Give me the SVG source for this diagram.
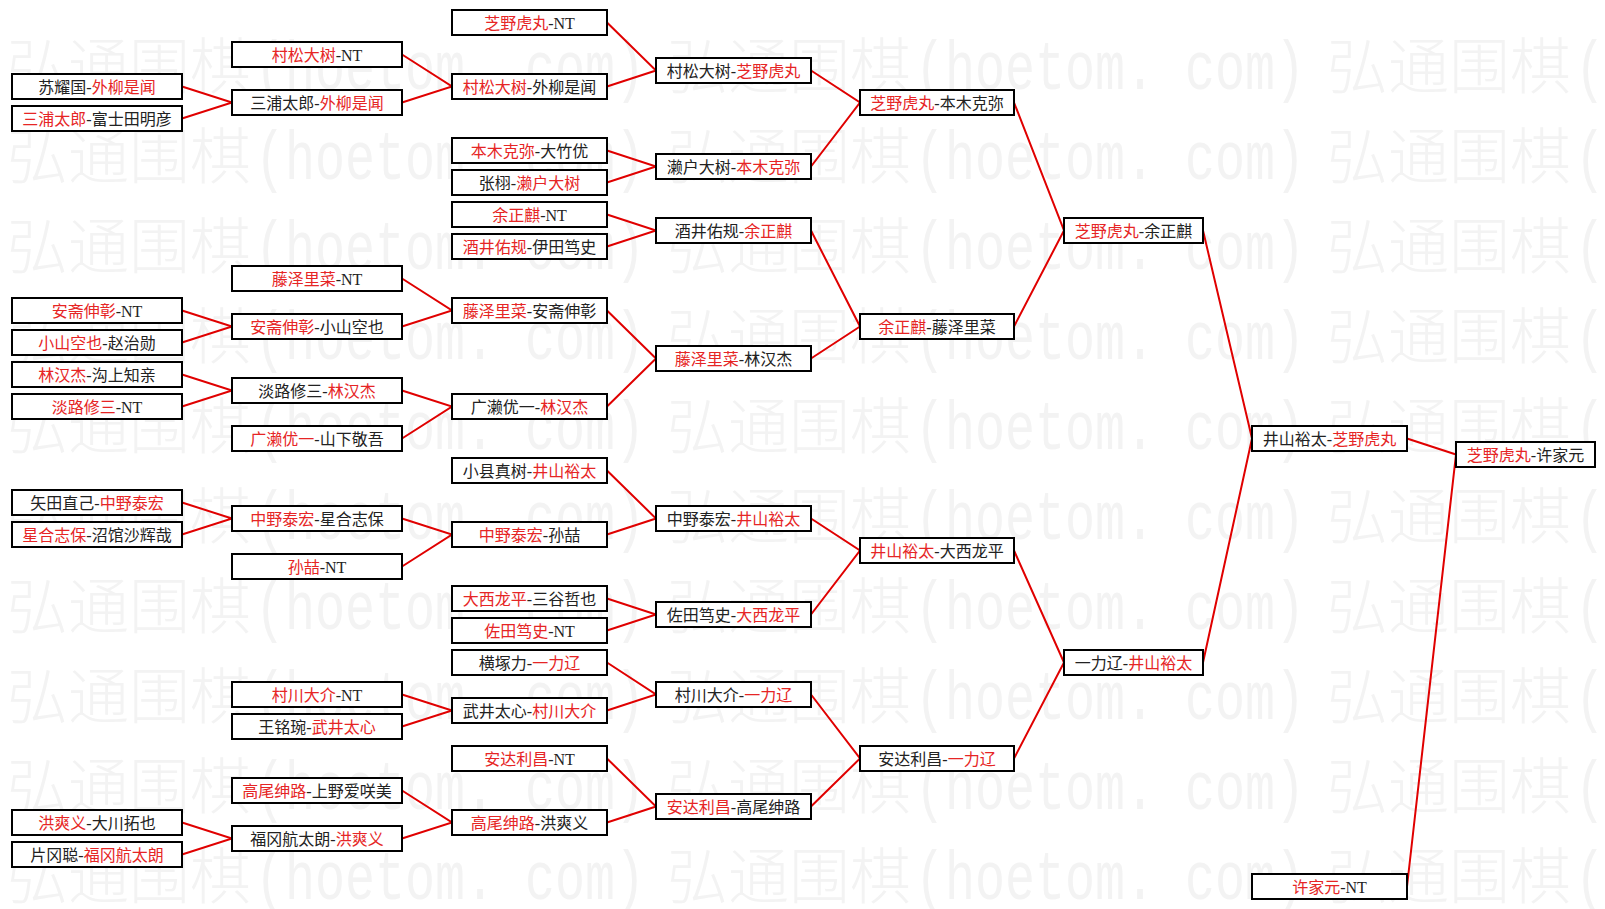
<svg xmlns="http://www.w3.org/2000/svg" xmlns:xlink="http://www.w3.org/1999/xlink" width="1605" height="909" viewBox="0 0 1605 909">
<style>
.wmc{font-family:"Noto Sans CJK SC",sans-serif;font-size:61px;font-weight:300;fill:#f3f3f3}
.wml{font-family:"Liberation Mono",monospace;font-size:68px;fill:#f3f3f3}
.conn path{fill:none;stroke:#e00000;stroke-width:2}
.box rect{fill:#ffffff;stroke:#000000;stroke-width:2}
.box text{font-family:"Liberation Serif","Noto Sans CJK SC",serif;font-size:16px;text-anchor:middle;fill:#222222}
.box .r{fill:#e62525}
</style>
<defs>
<g id="wm"><text class="wmc" x="0" y="0">弘通围棋</text><text class="wml" x="248" y="0" textLength="390" lengthAdjust="spacingAndGlyphs">(hoetom. com)</text></g>
</defs>
<rect x="0" y="0" width="1605" height="909" fill="#ffffff"/>
<g id="watermark">
<use href="#wm" x="7" y="89"/><use href="#wm" x="667" y="89"/><use href="#wm" x="1327" y="89"/>
<use href="#wm" x="7" y="179"/><use href="#wm" x="667" y="179"/><use href="#wm" x="1327" y="179"/>
<use href="#wm" x="7" y="269"/><use href="#wm" x="667" y="269"/><use href="#wm" x="1327" y="269"/>
<use href="#wm" x="7" y="359"/><use href="#wm" x="667" y="359"/><use href="#wm" x="1327" y="359"/>
<use href="#wm" x="7" y="449"/><use href="#wm" x="667" y="449"/><use href="#wm" x="1327" y="449"/>
<use href="#wm" x="7" y="539"/><use href="#wm" x="667" y="539"/><use href="#wm" x="1327" y="539"/>
<use href="#wm" x="7" y="629"/><use href="#wm" x="667" y="629"/><use href="#wm" x="1327" y="629"/>
<use href="#wm" x="7" y="719"/><use href="#wm" x="667" y="719"/><use href="#wm" x="1327" y="719"/>
<use href="#wm" x="7" y="809"/><use href="#wm" x="667" y="809"/><use href="#wm" x="1327" y="809"/>
<use href="#wm" x="7" y="899"/><use href="#wm" x="667" y="899"/><use href="#wm" x="1327" y="899"/>
</g>
<g id="connectors" class="conn">
<path d="M182 86.5L232 102.5L182 118.5"/>
<path d="M182 310.5L232 326.5L182 342.5"/>
<path d="M182 374.5L232 390.5L182 406.5"/>
<path d="M182 502.5L232 518.5L182 534.5"/>
<path d="M182 822.5L232 838.5L182 854.5"/>
<path d="M402 54.5L452 86.5L402 102.5"/>
<path d="M402 278.5L452 310.5L402 326.5"/>
<path d="M402 390.5L452 406.5L402 438.5"/>
<path d="M402 518.5L452 534.5L402 566.5"/>
<path d="M402 694.5L452 710.5L402 726.5"/>
<path d="M402 790.5L452 822.5L402 838.5"/>
<path d="M607 22.5L656 70.5L607 86.5"/>
<path d="M607 150.5L656 166.5L607 182.5"/>
<path d="M607 214.5L656 230.5L607 246.5"/>
<path d="M607 310.5L656 358.5L607 406.5"/>
<path d="M607 470.5L656 518.5L607 534.5"/>
<path d="M607 598.5L656 614.5L607 630.5"/>
<path d="M607 662.5L656 694.5L607 710.5"/>
<path d="M607 758.5L656 806.5L607 822.5"/>
<path d="M811 70.5L860 102.5L811 166.5"/>
<path d="M811 230.5L860 326.5L811 358.5"/>
<path d="M811 518.5L860 550.5L811 614.5"/>
<path d="M811 694.5L860 758.5L811 806.5"/>
<path d="M1014 102.5L1064 230.5L1014 326.5"/>
<path d="M1014 550.5L1064 662.5L1014 758.5"/>
<path d="M1203 230.5L1252 438.5L1203 662.5"/>
<path d="M1407 438.5L1456 454.5L1407 886.5"/>
</g>
<g id="r1-c1" class="box"><rect x="12" y="74" width="170" height="25"/><text x="97" y="92.5">苏耀国-<tspan class="r">外柳是闻</tspan></text></g>
<g id="r1-c2" class="box"><rect x="12" y="106" width="170" height="25"/><text x="97" y="124.5"><tspan class="r">三浦太郎</tspan>-富士田明彦</text></g>
<g id="r1-c3" class="box"><rect x="12" y="298" width="170" height="25"/><text x="97" y="316.5"><tspan class="r">安斋伸彰</tspan>-NT</text></g>
<g id="r1-c4" class="box"><rect x="12" y="330" width="170" height="25"/><text x="97" y="348.5"><tspan class="r">小山空也</tspan>-赵治勋</text></g>
<g id="r1-c5" class="box"><rect x="12" y="362" width="170" height="25"/><text x="97" y="380.5"><tspan class="r">林汉杰</tspan>-沟上知亲</text></g>
<g id="r1-c6" class="box"><rect x="12" y="394" width="170" height="25"/><text x="97" y="412.5"><tspan class="r">淡路修三</tspan>-NT</text></g>
<g id="r1-c7" class="box"><rect x="12" y="490" width="170" height="25"/><text x="97" y="508.5">矢田直己-<tspan class="r">中野泰宏</tspan></text></g>
<g id="r1-c8" class="box"><rect x="12" y="522" width="170" height="25"/><text x="97" y="540.5"><tspan class="r">星合志保</tspan>-沼馆沙辉哉</text></g>
<g id="r1-c9" class="box"><rect x="12" y="810" width="170" height="25"/><text x="97" y="828.5"><tspan class="r">洪爽义</tspan>-大川拓也</text></g>
<g id="r1-c10" class="box"><rect x="12" y="842" width="170" height="25"/><text x="97" y="860.5">片冈聪-<tspan class="r">福冈航太朗</tspan></text></g>
<g id="r2-c1" class="box"><rect x="232" y="42" width="170" height="25"/><text x="317" y="60.5"><tspan class="r">村松大树</tspan>-NT</text></g>
<g id="r2-c2" class="box"><rect x="232" y="90" width="170" height="25"/><text x="317" y="108.5">三浦太郎-<tspan class="r">外柳是闻</tspan></text></g>
<g id="r2-c3" class="box"><rect x="232" y="266" width="170" height="25"/><text x="317" y="284.5"><tspan class="r">藤泽里菜</tspan>-NT</text></g>
<g id="r2-c4" class="box"><rect x="232" y="314" width="170" height="25"/><text x="317" y="332.5"><tspan class="r">安斋伸彰</tspan>-小山空也</text></g>
<g id="r2-c5" class="box"><rect x="232" y="378" width="170" height="25"/><text x="317" y="396.5">淡路修三-<tspan class="r">林汉杰</tspan></text></g>
<g id="r2-c6" class="box"><rect x="232" y="426" width="170" height="25"/><text x="317" y="444.5"><tspan class="r">广濑优一</tspan>-山下敬吾</text></g>
<g id="r2-c7" class="box"><rect x="232" y="506" width="170" height="25"/><text x="317" y="524.5"><tspan class="r">中野泰宏</tspan>-星合志保</text></g>
<g id="r2-c8" class="box"><rect x="232" y="554" width="170" height="25"/><text x="317" y="572.5"><tspan class="r">孙喆</tspan>-NT</text></g>
<g id="r2-c9" class="box"><rect x="232" y="682" width="170" height="25"/><text x="317" y="700.5"><tspan class="r">村川大介</tspan>-NT</text></g>
<g id="r2-c10" class="box"><rect x="232" y="714" width="170" height="25"/><text x="317" y="732.5">王铭琬-<tspan class="r">武井太心</tspan></text></g>
<g id="r2-c11" class="box"><rect x="232" y="778" width="170" height="25"/><text x="317" y="796.5"><tspan class="r">高尾绅路</tspan>-上野爱咲美</text></g>
<g id="r2-c12" class="box"><rect x="232" y="826" width="170" height="25"/><text x="317" y="844.5">福冈航太朗-<tspan class="r">洪爽义</tspan></text></g>
<g id="r3-c1" class="box"><rect x="452" y="10" width="155" height="25"/><text x="529.5" y="28.5"><tspan class="r">芝野虎丸</tspan>-NT</text></g>
<g id="r3-c2" class="box"><rect x="452" y="74" width="155" height="25"/><text x="529.5" y="92.5"><tspan class="r">村松大树</tspan>-外柳是闻</text></g>
<g id="r3-c3" class="box"><rect x="452" y="138" width="155" height="25"/><text x="529.5" y="156.5"><tspan class="r">本木克弥</tspan>-大竹优</text></g>
<g id="r3-c4" class="box"><rect x="452" y="170" width="155" height="25"/><text x="529.5" y="188.5">张栩-<tspan class="r">濑户大树</tspan></text></g>
<g id="r3-c5" class="box"><rect x="452" y="202" width="155" height="25"/><text x="529.5" y="220.5"><tspan class="r">余正麒</tspan>-NT</text></g>
<g id="r3-c6" class="box"><rect x="452" y="234" width="155" height="25"/><text x="529.5" y="252.5"><tspan class="r">酒井佑规</tspan>-伊田笃史</text></g>
<g id="r3-c7" class="box"><rect x="452" y="298" width="155" height="25"/><text x="529.5" y="316.5"><tspan class="r">藤泽里菜</tspan>-安斋伸彰</text></g>
<g id="r3-c8" class="box"><rect x="452" y="394" width="155" height="25"/><text x="529.5" y="412.5">广濑优一-<tspan class="r">林汉杰</tspan></text></g>
<g id="r3-c9" class="box"><rect x="452" y="458" width="155" height="25"/><text x="529.5" y="476.5">小县真树-<tspan class="r">井山裕太</tspan></text></g>
<g id="r3-c10" class="box"><rect x="452" y="522" width="155" height="25"/><text x="529.5" y="540.5"><tspan class="r">中野泰宏</tspan>-孙喆</text></g>
<g id="r3-c11" class="box"><rect x="452" y="586" width="155" height="25"/><text x="529.5" y="604.5"><tspan class="r">大西龙平</tspan>-三谷哲也</text></g>
<g id="r3-c12" class="box"><rect x="452" y="618" width="155" height="25"/><text x="529.5" y="636.5"><tspan class="r">佐田笃史</tspan>-NT</text></g>
<g id="r3-c13" class="box"><rect x="452" y="650" width="155" height="25"/><text x="529.5" y="668.5">横塚力-<tspan class="r">一力辽</tspan></text></g>
<g id="r3-c14" class="box"><rect x="452" y="698" width="155" height="25"/><text x="529.5" y="716.5">武井太心-<tspan class="r">村川大介</tspan></text></g>
<g id="r3-c15" class="box"><rect x="452" y="746" width="155" height="25"/><text x="529.5" y="764.5"><tspan class="r">安达利昌</tspan>-NT</text></g>
<g id="r3-c16" class="box"><rect x="452" y="810" width="155" height="25"/><text x="529.5" y="828.5"><tspan class="r">高尾绅路</tspan>-洪爽义</text></g>
<g id="r4-c1" class="box"><rect x="656" y="58" width="155" height="25"/><text x="733.5" y="76.5">村松大树-<tspan class="r">芝野虎丸</tspan></text></g>
<g id="r4-c2" class="box"><rect x="656" y="154" width="155" height="25"/><text x="733.5" y="172.5">濑户大树-<tspan class="r">本木克弥</tspan></text></g>
<g id="r4-c3" class="box"><rect x="656" y="218" width="155" height="25"/><text x="733.5" y="236.5">酒井佑规-<tspan class="r">余正麒</tspan></text></g>
<g id="r4-c4" class="box"><rect x="656" y="346" width="155" height="25"/><text x="733.5" y="364.5"><tspan class="r">藤泽里菜</tspan>-林汉杰</text></g>
<g id="r4-c5" class="box"><rect x="656" y="506" width="155" height="25"/><text x="733.5" y="524.5">中野泰宏-<tspan class="r">井山裕太</tspan></text></g>
<g id="r4-c6" class="box"><rect x="656" y="602" width="155" height="25"/><text x="733.5" y="620.5">佐田笃史-<tspan class="r">大西龙平</tspan></text></g>
<g id="r4-c7" class="box"><rect x="656" y="682" width="155" height="25"/><text x="733.5" y="700.5">村川大介-<tspan class="r">一力辽</tspan></text></g>
<g id="r4-c8" class="box"><rect x="656" y="794" width="155" height="25"/><text x="733.5" y="812.5"><tspan class="r">安达利昌</tspan>-高尾绅路</text></g>
<g id="r5-c1" class="box"><rect x="860" y="90" width="154" height="25"/><text x="937" y="108.5"><tspan class="r">芝野虎丸</tspan>-本木克弥</text></g>
<g id="r5-c2" class="box"><rect x="860" y="314" width="154" height="25"/><text x="937" y="332.5"><tspan class="r">余正麒</tspan>-藤泽里菜</text></g>
<g id="r5-c3" class="box"><rect x="860" y="538" width="154" height="25"/><text x="937" y="556.5"><tspan class="r">井山裕太</tspan>-大西龙平</text></g>
<g id="r5-c4" class="box"><rect x="860" y="746" width="154" height="25"/><text x="937" y="764.5">安达利昌-<tspan class="r">一力辽</tspan></text></g>
<g id="r6-c1" class="box"><rect x="1064" y="218" width="139" height="25"/><text x="1133.5" y="236.5"><tspan class="r">芝野虎丸</tspan>-余正麒</text></g>
<g id="r6-c2" class="box"><rect x="1064" y="650" width="139" height="25"/><text x="1133.5" y="668.5">一力辽-<tspan class="r">井山裕太</tspan></text></g>
<g id="r7-c1" class="box"><rect x="1252" y="426" width="155" height="25"/><text x="1329.5" y="444.5">井山裕太-<tspan class="r">芝野虎丸</tspan></text></g>
<g id="r7-c2" class="box"><rect x="1252" y="874" width="155" height="25"/><text x="1329.5" y="892.5"><tspan class="r">许家元</tspan>-NT</text></g>
<g id="final" class="box"><rect x="1456" y="442" width="139" height="25"/><text x="1525.5" y="460.5"><tspan class="r">芝野虎丸</tspan>-许家元</text></g>
</svg>
